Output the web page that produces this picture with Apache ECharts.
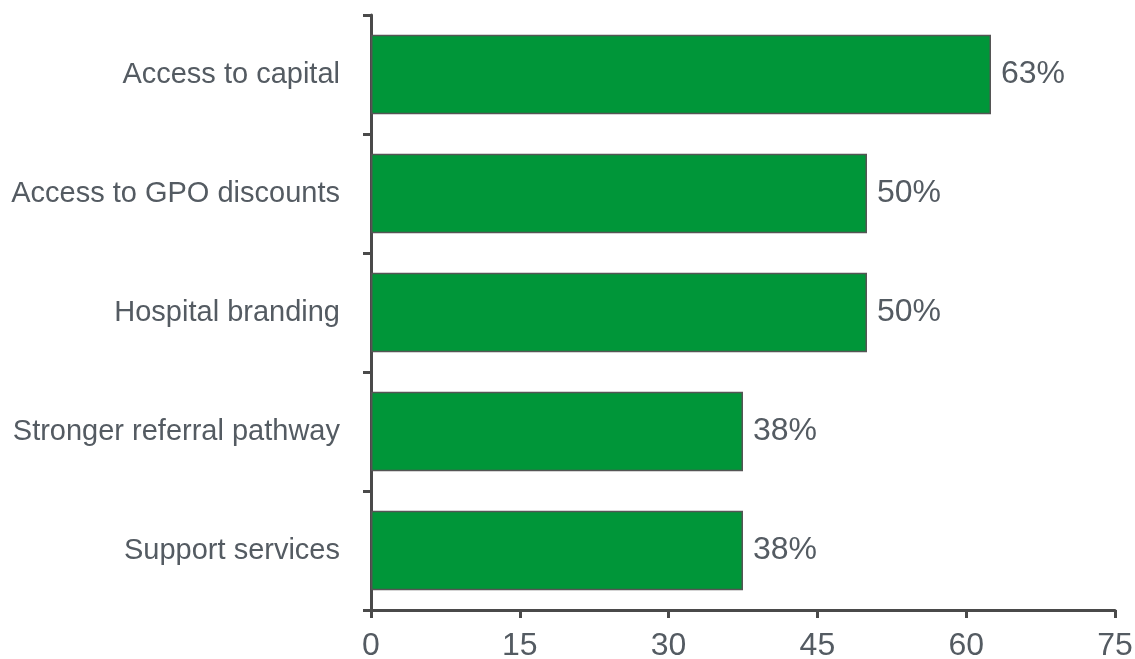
<!DOCTYPE html>
<html><head><meta charset="utf-8">
<script src="https://cdn.jsdelivr.net/npm/echarts@6/dist/echarts.min.js"></script>
<style>html,body{margin:0;padding:0;background:#fff}#c{width:1135px;height:659px}</style>
</head><body><div id="c"></div>
<script>
const categories = ["Access to capital","Access to GPO discounts","Hospital branding","Stronger referral pathway","Support services"];
const values = [62.5, 50, 50, 37.5, 37.5];
const xTicks = [0, 15, 30, 45, 60, 75];

const chart = echarts.init(document.getElementById('c'), null, {renderer:'canvas'});
const font = '"Liberation Sans", Arial, sans-serif';
chart.setOption({
  animation:false,
  grid:{left:371, right:20, top:15, bottom:49, containLabel:false, outerBoundsMode:'none'},
  xAxis:{type:'value', min:xTicks[0], max:xTicks[xTicks.length-1], interval:15,
    axisLine:{show:true, lineStyle:{color:'#4a4a4a', width:3}},
    axisTick:{show:true, length:8, inside:false, lineStyle:{color:'#4a4a4a', width:3}},
    splitLine:{show:false},
    axisLabel:{color:'#545b62', fontSize:32, fontFamily:font, margin:20}},
  yAxis:{type:'category', data:categories, inverse:true,
    axisLine:{show:true, lineStyle:{color:'#4a4a4a', width:3}},
    axisTick:{show:true, length:8, lineStyle:{color:'#4a4a4a', width:3}},
    axisLabel:{color:'#545b62', fontSize:29, fontFamily:font, margin:31}},
  series:[{type:'bar', data:values, barCategoryGap:'33%',
    itemStyle:{color:'#009639', borderColor:'#555', borderWidth:1.5},
    label:{show:true, position:'right', distance:10, color:'#545b62', fontSize:32, fontFamily:font,
      formatter:p=>Math.round(p.value)+'%'}}]
});
</script></body></html>
